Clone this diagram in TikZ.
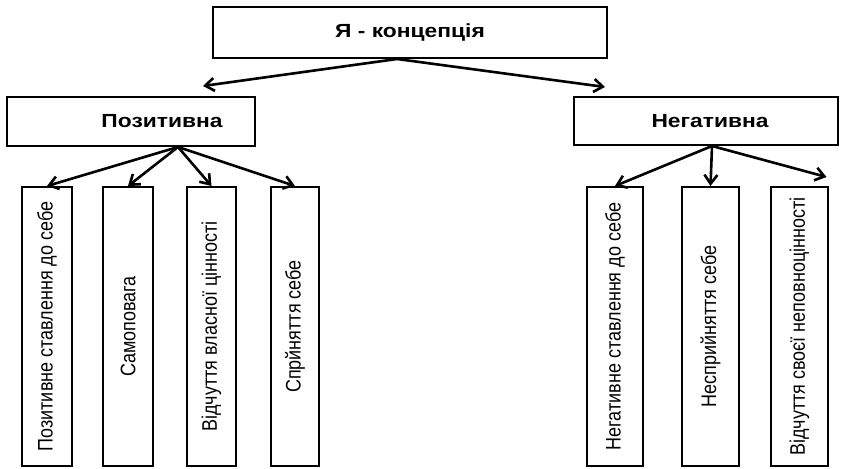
\documentclass[tikz,border=0pt]{standalone}
\usepackage{fontspec}
\setmainfont{Liberation Sans}
\newfontfamily\headfont[FakeStretch=1.2]{Liberation Sans}
\usetikzlibrary{arrows.meta}
\newcommand{\vtext}[1]{\scalebox{1}[1.17]{#1}}

\begin{document}
\begin{tikzpicture}[x=1pt, y=1pt, line width=2pt,
  head/.style={draw, minimum width=#1, minimum height=49, inner sep=0pt,
    font=\headfont\bfseries\fontsize{19}{21}\selectfont},
  leaf/.style={draw, rotate=90, minimum width=279, minimum height=#1, inner sep=0pt,
    font=\fontsize{18}{20}\selectfont},
  arr/.style={line width=2.6pt, -{Straight Barb[length=9pt,width=13pt]}}]
  \useasboundingbox (0,0) rectangle (842,-468);
  % levels
  \node[head=394, minimum height=51] (top) at (410,-32.5) {Я - концепція};
  \node[head=248] (pos) at (131,-121.5) {\hspace*{62pt}Позитивна};
  \node[head=264, minimum height=48] (neg) at (706,-121) {\hspace*{8pt}Негативна};
  % positive side
  \node[leaf=50] (p1) at (47,-326.5) {\vtext{Позитивне ставлення до себе}};
  \node[leaf=50] (p2) at (128,-326.5) {\vtext{Самоповага}};
  \node[leaf=49] (p3) at (211.5,-326.5) {\vtext{Відчуття власної цінності}};
  \node[leaf=48] (p4) at (295,-326.5) {\vtext{Спрйняття себе}};
  % negative side
  \node[leaf=56] (n1) at (615,-326.5) {\vtext{Негативне ставлення до себе}};
  \node[leaf=57] (n2) at (710.5,-326.5) {\vtext{Несприйняття себе}};
  \node[leaf=57] (n3) at (799.5,-326.5) {\vtext{Відчуття своєї неповноцінності}};
  % arrows
  \draw[arr] ([xshift=-13pt]top.south) -- ([xshift=72pt,yshift=10pt]pos.north);
  \draw[arr] ([xshift=-13pt]top.south) -- ([xshift=-101pt,yshift=9pt]neg.north);
  \foreach \n in {p1,p2,p3,p4}
    \draw[arr] ([xshift=47pt]pos.south) -- (\n.east);
  \draw[arr] ([xshift=6pt]neg.south) -- (n1.east);
  \draw[arr] ([xshift=6pt]neg.south) -- (n2.east);
  \draw[arr] ([xshift=6pt]neg.south) -- ([xshift=27pt,yshift=9pt]n3.east);
\end{tikzpicture}
\end{document}
